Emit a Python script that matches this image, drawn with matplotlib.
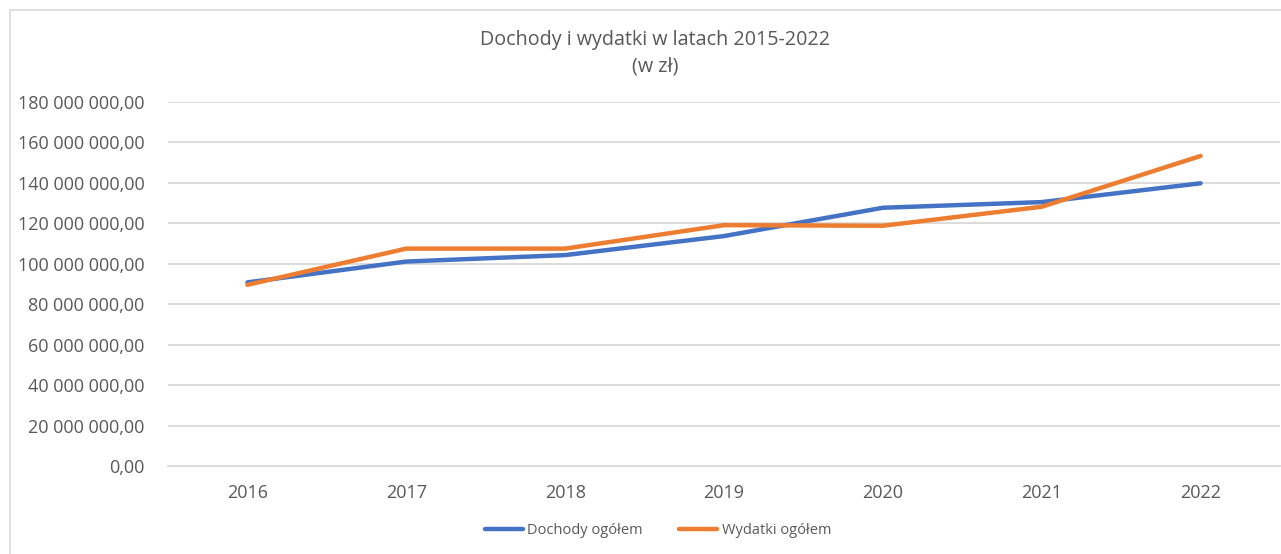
import numpy as np
from matplotlib import pyplot as plt
from matplotlib.ticker import FuncFormatter
from matplotlib.patches import Rectangle

# data
years = ["2016", "2017", "2018", "2019", "2020", "2021", "2022"]
dochody = [90.8e6, 101.1e6, 104.3e6, 113.7e6, 127.7e6, 130.5e6, 139.8e6]
wydatki = [89.6e6, 107.5e6, 107.5e6, 119.1e6, 118.8e6, 128.2e6, 153.3e6]
y_ticks = np.arange(0, 180e6 + 1, 20e6)

plt.rcParams['font.family'] = ['Open Sans', 'DejaVu Sans']
grey = "#595959"


def pl_format(v, pos):
    """Polish number format: space thousands, comma decimals."""
    s = "{:,.2f}".format(v)
    return s.replace(",", " ").replace(".", ",")


fig = plt.figure(figsize=(12.81, 5.54), dpi=100)
ax = fig.add_axes([168 / 1281, 1 - 466 / 554, (1280 - 168) / 1281, (466 - 102) / 554])

x = np.arange(len(years))
ax.plot(x, dochody, color="#4472C4", linewidth=3.2, label="Dochody ogółem",
        solid_capstyle="round", solid_joinstyle="round", zorder=3)
ax.plot(x, wydatki, color="#ED7D31", linewidth=3.2, label="Wydatki ogółem",
        solid_capstyle="round", solid_joinstyle="round", zorder=3)

ax.set_xlim(-0.5, len(years) - 0.5)
ax.set_ylim(0, 180e6)
ax.set_yticks(y_ticks)
ax.yaxis.set_major_formatter(FuncFormatter(pl_format))
ax.set_xticks(x)
ax.set_xticklabels(years)
ax.tick_params(axis="both", length=0, labelsize=13, colors=grey)
ax.tick_params(axis="y", pad=17)
ax.tick_params(axis="x", pad=13)
ax.grid(axis="y", color="#D9D9D9", linewidth=1.3)
ax.set_axisbelow(True)
for side in ["left", "right", "top"]:
    ax.spines[side].set_visible(False)
ax.spines["bottom"].set_color("#D9D9D9")
ax.spines["bottom"].set_linewidth(1.3)

fig.text(655 / 1281, 1 - 40 / 554, "Dochody i wydatki w latach 2015-2022", ha="center",
         va="center", fontsize=14.2, color=grey)
fig.text(655 / 1281, 1 - 67 / 554, "(w zł)", ha="center", va="center", fontsize=14.2,
         color=grey)

fig.legend(loc="center", bbox_to_anchor=(658 / 1281, 1 - 531 / 554), ncol=2, frameon=False,
           fontsize=10.5, labelcolor=grey, handlelength=2.6, handletextpad=0.3,
           columnspacing=2.5)

fig.patches.append(Rectangle((10 / 1281, -0.1), 1.2, 1 - 10 / 554 + 0.1,
                             transform=fig.transFigure, fill=False,
                             edgecolor="#D9D9D9", linewidth=1.2))

plt.savefig("out.png", dpi=100)
